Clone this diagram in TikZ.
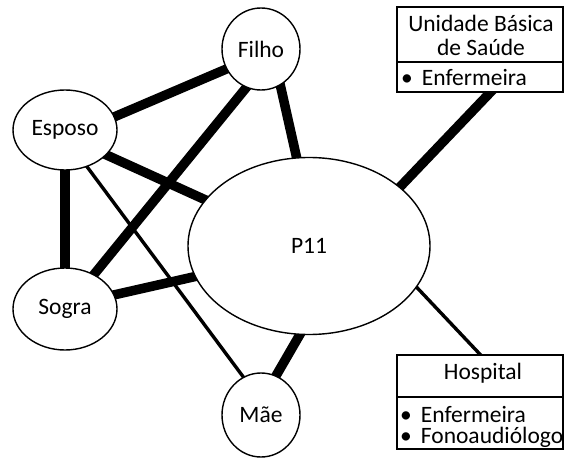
\documentclass[tikz,border=0pt]{standalone}
\usepackage{fontspec}
\setmainfont{Carlito}
\usetikzlibrary{shapes.geometric,backgrounds}
\newcommand{\listitem}[1]{\textbullet\hspace{9pt}#1}
\begin{document}
\begin{tikzpicture}[x=1pt,y=-1pt,
  every node/.style={font=\fontsize{23.5}{23}\selectfont, inner sep=0pt},
  person/.style={ellipse, draw, line width=1.4pt, fill=white},
  panel/.style={rectangle, draw, line width=1.4pt, fill=white, minimum width=166pt},
  strong/.style={line width=9.5pt, shorten <=-6pt, shorten >=-6pt},
  weak/.style={line width=3.4pt, shorten <=-6pt, shorten >=-6pt}]
\useasboundingbox (0,0) rectangle (565,460);

% people
\node[person, minimum width=242pt, minimum height=177pt] (p11) at (309,246) {P11};
\node[person, minimum width=78pt, minimum height=82pt] (filho) at (261,49) {Filho};
\node[person, minimum width=104pt, minimum height=80pt] (esposo) at (65,130) {Esposo};
\node[person, minimum width=104pt, minimum height=82pt] (sogra) at (65,309) {Sogra};
\node[person, minimum width=78pt, minimum height=84pt] (mae) at (261,415) {Mãe};

% services
\node[panel, minimum height=85pt] (ubs) at (480,49.5) {};
\draw[line width=1.4pt] (ubs.west |- 0,62) -- (ubs.east |- 0,62);
\node[anchor=base] (ubs1) at (481,31.7) {Unidade Básica};
\node[anchor=base] (ubs2) at (481,55.5) {de Saúde};
\node[anchor=base west] (ubs3) at (401,85) {\listitem{Enfermeira}};

\node[panel, minimum height=94pt] (hosp) at (480,402) {};
\draw[line width=1.4pt] (hosp.west |- 0,397) -- (hosp.east |- 0,397);
\node[anchor=base] (hosp1) at (483,379) {Hospital};
\node[anchor=base west] (hosp2) at (400,422) {\listitem{Enfermeira}};
\node[anchor=base west] (hosp3) at (400,443.5) {\listitem{Fonoaudiólogo}};

% ties
\begin{scope}[on background layer]
  \draw[strong] (filho.-62) -- (p11.98);
  \draw[strong] (filho.210) -- (esposo.15);
  \draw[strong] (filho.-111) -- (sogra.50);
  \draw[strong] (esposo.-31) -- (p11.156);
  \draw[strong] (esposo.-90) -- (sogra.90);
  \draw[strong] (sogra.16) -- (p11.195);
  \draw[strong] (mae.69) -- (p11.-96);
  \draw[strong] ([xshift=10pt]ubs.south) -- (p11.33);
  \draw[weak] (esposo.-59) -- (mae.115);
  \draw[weak] (p11.-21.5) -- (hosp.north);
\end{scope}
\end{tikzpicture}
\end{document}
